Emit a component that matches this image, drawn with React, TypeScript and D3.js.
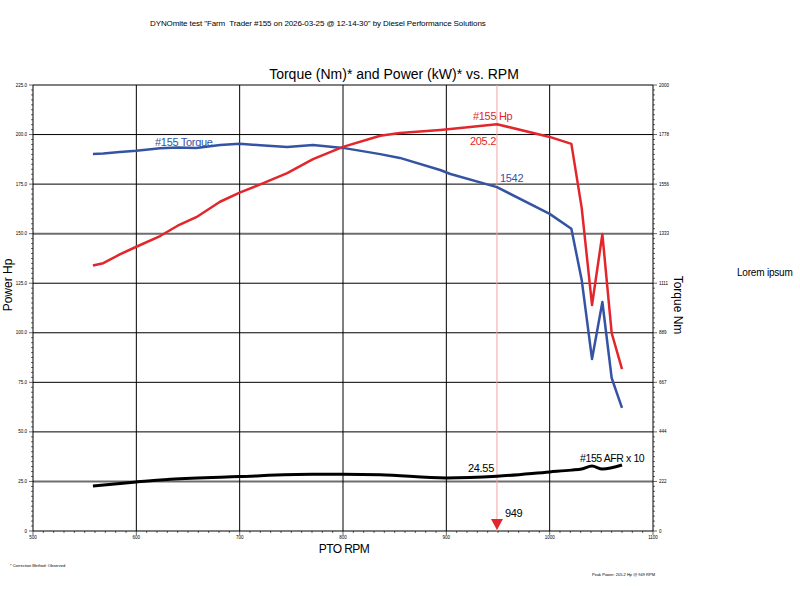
import * as d3 from "d3";

// dyno samples (PTO rpm) shared by power and torque
const rpm = [558, 568, 584, 600, 623, 640, 658, 681, 700, 720, 746, 771, 800, 836, 855, 894, 904, 949, 1000, 1021, 1031, 1041, 1051, 1060, 1070];
const powerHp = [133.9, 135.1, 139.5, 143.4, 148.8, 154.0, 158.3, 166.1, 170.7, 174.9, 180.5, 187.6, 193.8, 199.4, 200.8, 202.3, 202.8, 205.2, 198.8, 195.3, 163.0, 114.0, 149.8, 99.9, 81.7];
const torqueNm = [1691, 1693, 1700, 1705, 1716, 1720, 1718, 1731, 1736, 1730, 1722, 1731, 1718, 1690, 1673, 1619, 1601, 1542, 1422, 1355, 1126, 771, 1027, 686, 552];

// air/fuel ratio x10, own 0-200 scale
const afrRpm = [558, 600, 633, 700, 770, 800, 836, 900, 949, 1000, 1021, 1031, 1041, 1051, 1070];
const afrX10 = [20.2, 22.0, 23.2, 24.4, 25.4, 25.4, 25.2, 23.8, 24.55, 26.5, 27.3, 27.8, 29.1, 27.8, 29.6];

const hpTicks = [0, 25, 50, 75, 100, 125, 150, 175, 200, 225];
const hpTickLabels = ["0", "25.0", "50.0", "75.0", "100.0", "125.0", "150.0", "175.0", "200.0", "225.0"];
const nmTickLabels = ["0", "222", "444", "667", "889", "1111", "1333", "1556", "1778", "2000"];
const rpmTicks = [500, 600, 700, 800, 900, 1000, 1100];

const cursorRpm = 949;
const cursorHp = 205.2;
const cursorNm = 1542;
const cursorAfr = 24.55;

const RED = "#e3262b";
const BLUE = "#3454a3";
const FONT = "'Liberation Sans', Arial, sans-serif";

function DynoChart() {
    const plot = { left: 33, right: 653, top: 85, bottom: 531 };

    const x = d3.scaleLinear().domain([500, 1100]).range([plot.left, plot.right]);
    const yHp = d3.scaleLinear().domain([0, 225]).range([plot.bottom, plot.top]);
    const yNm = d3.scaleLinear().domain([0, 2000]).range([plot.bottom, plot.top]);
    const yAfr = d3.scaleLinear().domain([0, 200]).range([plot.bottom, plot.top]);

    const hpLine = d3.line<number>().x((_, i) => x(rpm[i])).y((d) => yHp(d));
    const nmLine = d3.line<number>().x((_, i) => x(rpm[i])).y((d) => yNm(d));
    const afrLine = d3.line<number>().x((_, i) => x(afrRpm[i])).y((d) => yAfr(d)).curve(d3.curveMonotoneX);

    const minorY = d3.range(0, 225.01, 2.5);
    const minorX = d3.range(500, 1100.01, 10);

    const cx = x(cursorRpm);

    return (
        <svg width={800} height={600} style={{ position: "absolute", left: 0, top: 0, background: "#ffffff" }} fontFamily={FONT}>
            <text x={150} y={26} fontSize={8} letterSpacing={-0.1} style={{ whiteSpace: "pre" }}>DYNOmite test "Farm  Trader #155 on 2026-03-25 @ 12-14-30" by Diesel Performance Solutions</text>
            <text x={394} y={79} textAnchor="middle" fontSize={14}>Torque (Nm)* and Power (kW)* vs. RPM</text>

            {/* grid */}
            {hpTicks.slice(1).map((t) => (
                <line key={t} x1={plot.left} x2={plot.right} y1={yHp(t)} y2={yHp(t)}
                    stroke={t === 25 || t === 150 ? "#6e6e6e" : "#000"} strokeWidth={t === 25 || t === 150 ? 2 : 1} />
            ))}
            {rpmTicks.slice(1, -1).map((t) => (
                <line key={t} x1={x(t)} x2={x(t)} y1={plot.top} y2={plot.bottom} stroke="#000" strokeWidth={1} />
            ))}

            {/* left axis */}
            <line x1={plot.left} x2={plot.left} y1={plot.top} y2={plot.bottom} stroke="#000" />
            {minorY.map((t) => (
                <line key={t} x1={plot.left - (t % 25 === 0 ? 4 : 2)} x2={plot.left} y1={yHp(t)} y2={yHp(t)} stroke="#000" strokeWidth={0.6} />
            ))}
            {hpTicks.map((t, i) => (
                <text key={t} x={plot.left - 6} y={yHp(t) + 1.5} textAnchor="end" fontSize={4.5}>{hpTickLabels[i]}</text>
            ))}

            {/* right axis */}
            <line x1={plot.right} x2={plot.right} y1={plot.top} y2={plot.bottom} stroke="#000" />
            {minorY.map((t) => (
                <line key={t} x1={plot.right} x2={plot.right + (t % 25 === 0 ? 4 : 2)} y1={yHp(t)} y2={yHp(t)} stroke="#000" strokeWidth={0.6} />
            ))}
            {nmTickLabels.map((t, i) => (
                <text key={t} x={plot.right + 6} y={yNm((i * 2000) / 9) + 1.5} fontSize={4.5}>{t}</text>
            ))}

            {/* bottom axis */}
            <line x1={plot.left} x2={plot.right} y1={plot.bottom} y2={plot.bottom} stroke="#000" />
            {minorX.map((t) => (
                <line key={t} x1={x(t)} x2={x(t)} y1={plot.bottom} y2={plot.bottom + (t % 100 === 0 ? 4 : 2)} stroke="#000" strokeWidth={0.6} />
            ))}
            {rpmTicks.map((t) => (
                <text key={t} x={x(t)} y={plot.bottom + 8} textAnchor="middle" fontSize={4.5}>{t}</text>
            ))}

            {/* cursor */}
            <line x1={cx} x2={cx} y1={plot.top} y2={plot.bottom} stroke="#f2a3a3" strokeWidth={1} />
            <path d={`M${cx - 6},${plot.bottom - 12}L${cx + 6},${plot.bottom - 12}L${cx},${plot.bottom - 1}Z`} fill={RED} />

            {/* series */}
            <path d={afrLine(afrX10)!} fill="none" stroke="#000" strokeWidth={3} />
            <path d={nmLine(torqueNm)!} fill="none" stroke={BLUE} strokeWidth={2.5} strokeLinejoin="round" />
            <path d={hpLine(powerHp)!} fill="none" stroke={RED} strokeWidth={2.5} strokeLinejoin="round" />

            {/* series labels */}
            <text x={cx - 24} y={yHp(cursorHp) - 4} fontSize={11} letterSpacing={-0.3} fill={RED}>#155 Hp</text>
            <text x={cx - 27} y={yHp(cursorHp) + 21} fontSize={11} letterSpacing={-0.3} fill={RED}>{cursorHp.toFixed(1)}</text>
            <text x={cx + 3} y={yNm(cursorNm) - 5} fontSize={11} letterSpacing={-0.3} fill={BLUE}>{cursorNm}</text>
            <text x={155} y={146} fontSize={11} letterSpacing={-0.3} fill={BLUE}>#155 Torque</text>
            <text x={580} y={462} fontSize={10.5} letterSpacing={-0.4}>#155 AFR x 10</text>
            <text x={cx - 29} y={yAfr(cursorAfr) - 4} fontSize={11} letterSpacing={-0.3}>{cursorAfr}</text>
            <text x={cx + 8} y={plot.bottom - 14} fontSize={11} letterSpacing={-0.3}>{cursorRpm}</text>

            {/* axis titles */}
            <text transform={`translate(12, 285) rotate(-90)`} textAnchor="middle" fontSize={12}>Power Hp</text>
            <text transform={`translate(674, 305) rotate(90)`} textAnchor="middle" fontSize={12}>Torque Nm</text>
            <text x={344} y={553} textAnchor="middle" fontSize={12} letterSpacing={-0.6}>PTO RPM</text>

            <text x={737} y={276} fontSize={10} letterSpacing={-0.2}>Lorem ipsum</text>

            <text x={10} y={567} fontSize={4}>* Correction Method: Observed</text>
            <text x={592} y={576} fontSize={4}>Peak Power: 205.2 Hp @ 949 RPM</text>
        </svg>
    );
}

export default function App() {
    return <DynoChart />;
}
